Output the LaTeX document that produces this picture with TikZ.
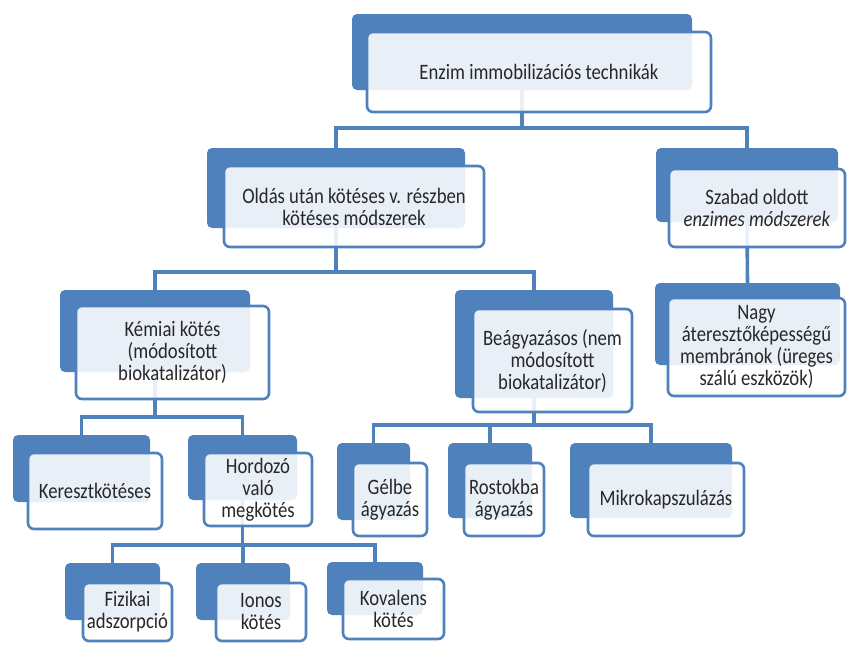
\documentclass[tikz,border=0pt]{standalone}
\usepackage{fontspec}
\setmainfont{Carlito}[FakeStretch=0.85]
\usetikzlibrary{backgrounds}

\definecolor{smblue}{RGB}{79,129,189}
\definecolor{smtext}{RGB}{40,40,40}

\tikzset{
  back/.style={fill=smblue, rounded corners=5pt, anchor=north west, inner sep=0pt, outer sep=0pt},
  card/.style={draw=smblue, line width=2.6pt, fill=white, fill opacity=0.88, text opacity=1,
    rounded corners=6pt, anchor=north west, inner sep=0pt, outer sep=0pt, align=center,
    text=smtext, font=\fontsize{22}{22}\selectfont},
  link/.style={draw=smblue, line width=3.6pt},
}

\begin{document}
\begin{tikzpicture}[x=1pt,y=-1pt]
  \useasboundingbox (0,0) rectangle (847,646);

  % blue backs
  \node[back, minimum width=340pt, minimum height=76pt]  (topB)  at (352,14)  {};
  \node[back, minimum width=258pt, minimum height=80pt]  (oldB)  at (207,148) {};
  \node[back, minimum width=182pt, minimum height=74pt]  (szaB)  at (656,148) {};
  \node[back, minimum width=185pt, minimum height=82pt]  (nagyB) at (655,283) {};
  \node[back, minimum width=190pt, minimum height=82pt]  (kemB)  at (60,290)  {};
  \node[back, minimum width=158pt, minimum height=108pt] (beaB)  at (455,290) {};
  \node[back, minimum width=137pt, minimum height=67pt]  (kerB)  at (13,435)  {};
  \node[back, minimum width=109pt, minimum height=65pt]  (horB)  at (188,435) {};
  \node[back, minimum width=73pt,  minimum height=77pt]  (gelB)  at (337,443) {};
  \node[back, minimum width=84pt,  minimum height=75pt]  (rosB)  at (448,443) {};
  \node[back, minimum width=162pt, minimum height=75pt]  (mikB)  at (570,443) {};
  \node[back, minimum width=95pt,  minimum height=57pt]  (fizB)  at (65,563)  {};
  \node[back, minimum width=94pt,  minimum height=57pt]  (ionB)  at (196,563) {};
  \node[back, minimum width=96pt,  minimum height=53pt]  (kovB)  at (327,562) {};

  % white cards
  \node[card, minimum width=344pt, minimum height=80pt]  (top)  at (367,32)  {Enzim immobilizációs technikák};
  \node[card, minimum width=260pt, minimum height=81pt]  (old)  at (224,166) {Oldás után kötéses v. részben\\kötéses módszerek};
  \node[card, minimum width=176pt, minimum height=78pt]  (sza)  at (669,169) {Szabad oldott\\\textit{enzimes módszerek}};
  \node[card, minimum width=177pt, minimum height=98pt]  (nagy) at (668,298) {Nagy\\áteresztőképességű\\membránok (üreges\\szálú eszközök)};
  \node[card, minimum width=193pt, minimum height=93pt]  (kem)  at (76,306)  {Kémiai kötés\\(módosított\\biokatalizátor)};
  \node[card, minimum width=159pt, minimum height=103pt] (bea)  at (473,309) {Beágyazásos (nem\\módosított\\biokatalizátor)};
  \node[card, minimum width=134pt, minimum height=76pt]  (ker)  at (28,453)  {Keresztkötéses};
  \node[card, minimum width=108pt, minimum height=73pt]  (hor)  at (204,453) {Hordozó\\való\\megkötés};
  \node[card, minimum width=74pt,  minimum height=73pt]  (gel)  at (353,463) {Gélbe\\ágyazás};
  \node[card, minimum width=80pt,  minimum height=73pt]  (ros)  at (464,463) {Rostokba\\ágyazás};
  \node[card, minimum width=156pt, minimum height=73pt]  (mik)  at (588,463) {Mikrokapszulázás};
  \node[card, minimum width=89pt,  minimum height=58pt]  (fiz)  at (83,583)  {Fizikai\\adszorpció};
  \node[card, minimum width=90pt,  minimum height=58pt]  (ion)  at (216,583) {Ionos\\kötés};
  \node[card, minimum width=101pt, minimum height=60pt]  (kov)  at (343,579) {Kovalens\\kötés};

  % connectors
  \begin{scope}[on background layer]
    \draw[link] (topB.south) -- ++(0,38) -| (oldB.north);
    \draw[link] (topB.south) -- ++(0,38) -| (szaB.north);
    \draw[link] (szaB.south) -- (nagyB.north);
    \draw[link] (oldB.south) -- ++(0,44) -| (kemB.north);
    \draw[link] (oldB.south) -- ++(0,44) -| (beaB.north);
    \draw[link] (kemB.south) -- ++(0,45) -| (kerB.north);
    \draw[link] (kemB.south) -- ++(0,45) -| (horB.north);
    \draw[link] (beaB.south) -- ++(0,27) -| (gelB.north);
    \draw[link] (beaB.south) -- ++(0,27) -| (rosB.north);
    \draw[link] (beaB.south) -- ++(0,27) -| (mikB.north);
    \draw[link] (horB.south) -- ++(0,45) -| (fizB.north);
    \draw[link] (horB.south) -- ++(0,45) -| (ionB.north);
    \draw[link] (horB.south) -- ++(0,45) -| (kovB.north);
  \end{scope}
\end{tikzpicture}
\end{document}
